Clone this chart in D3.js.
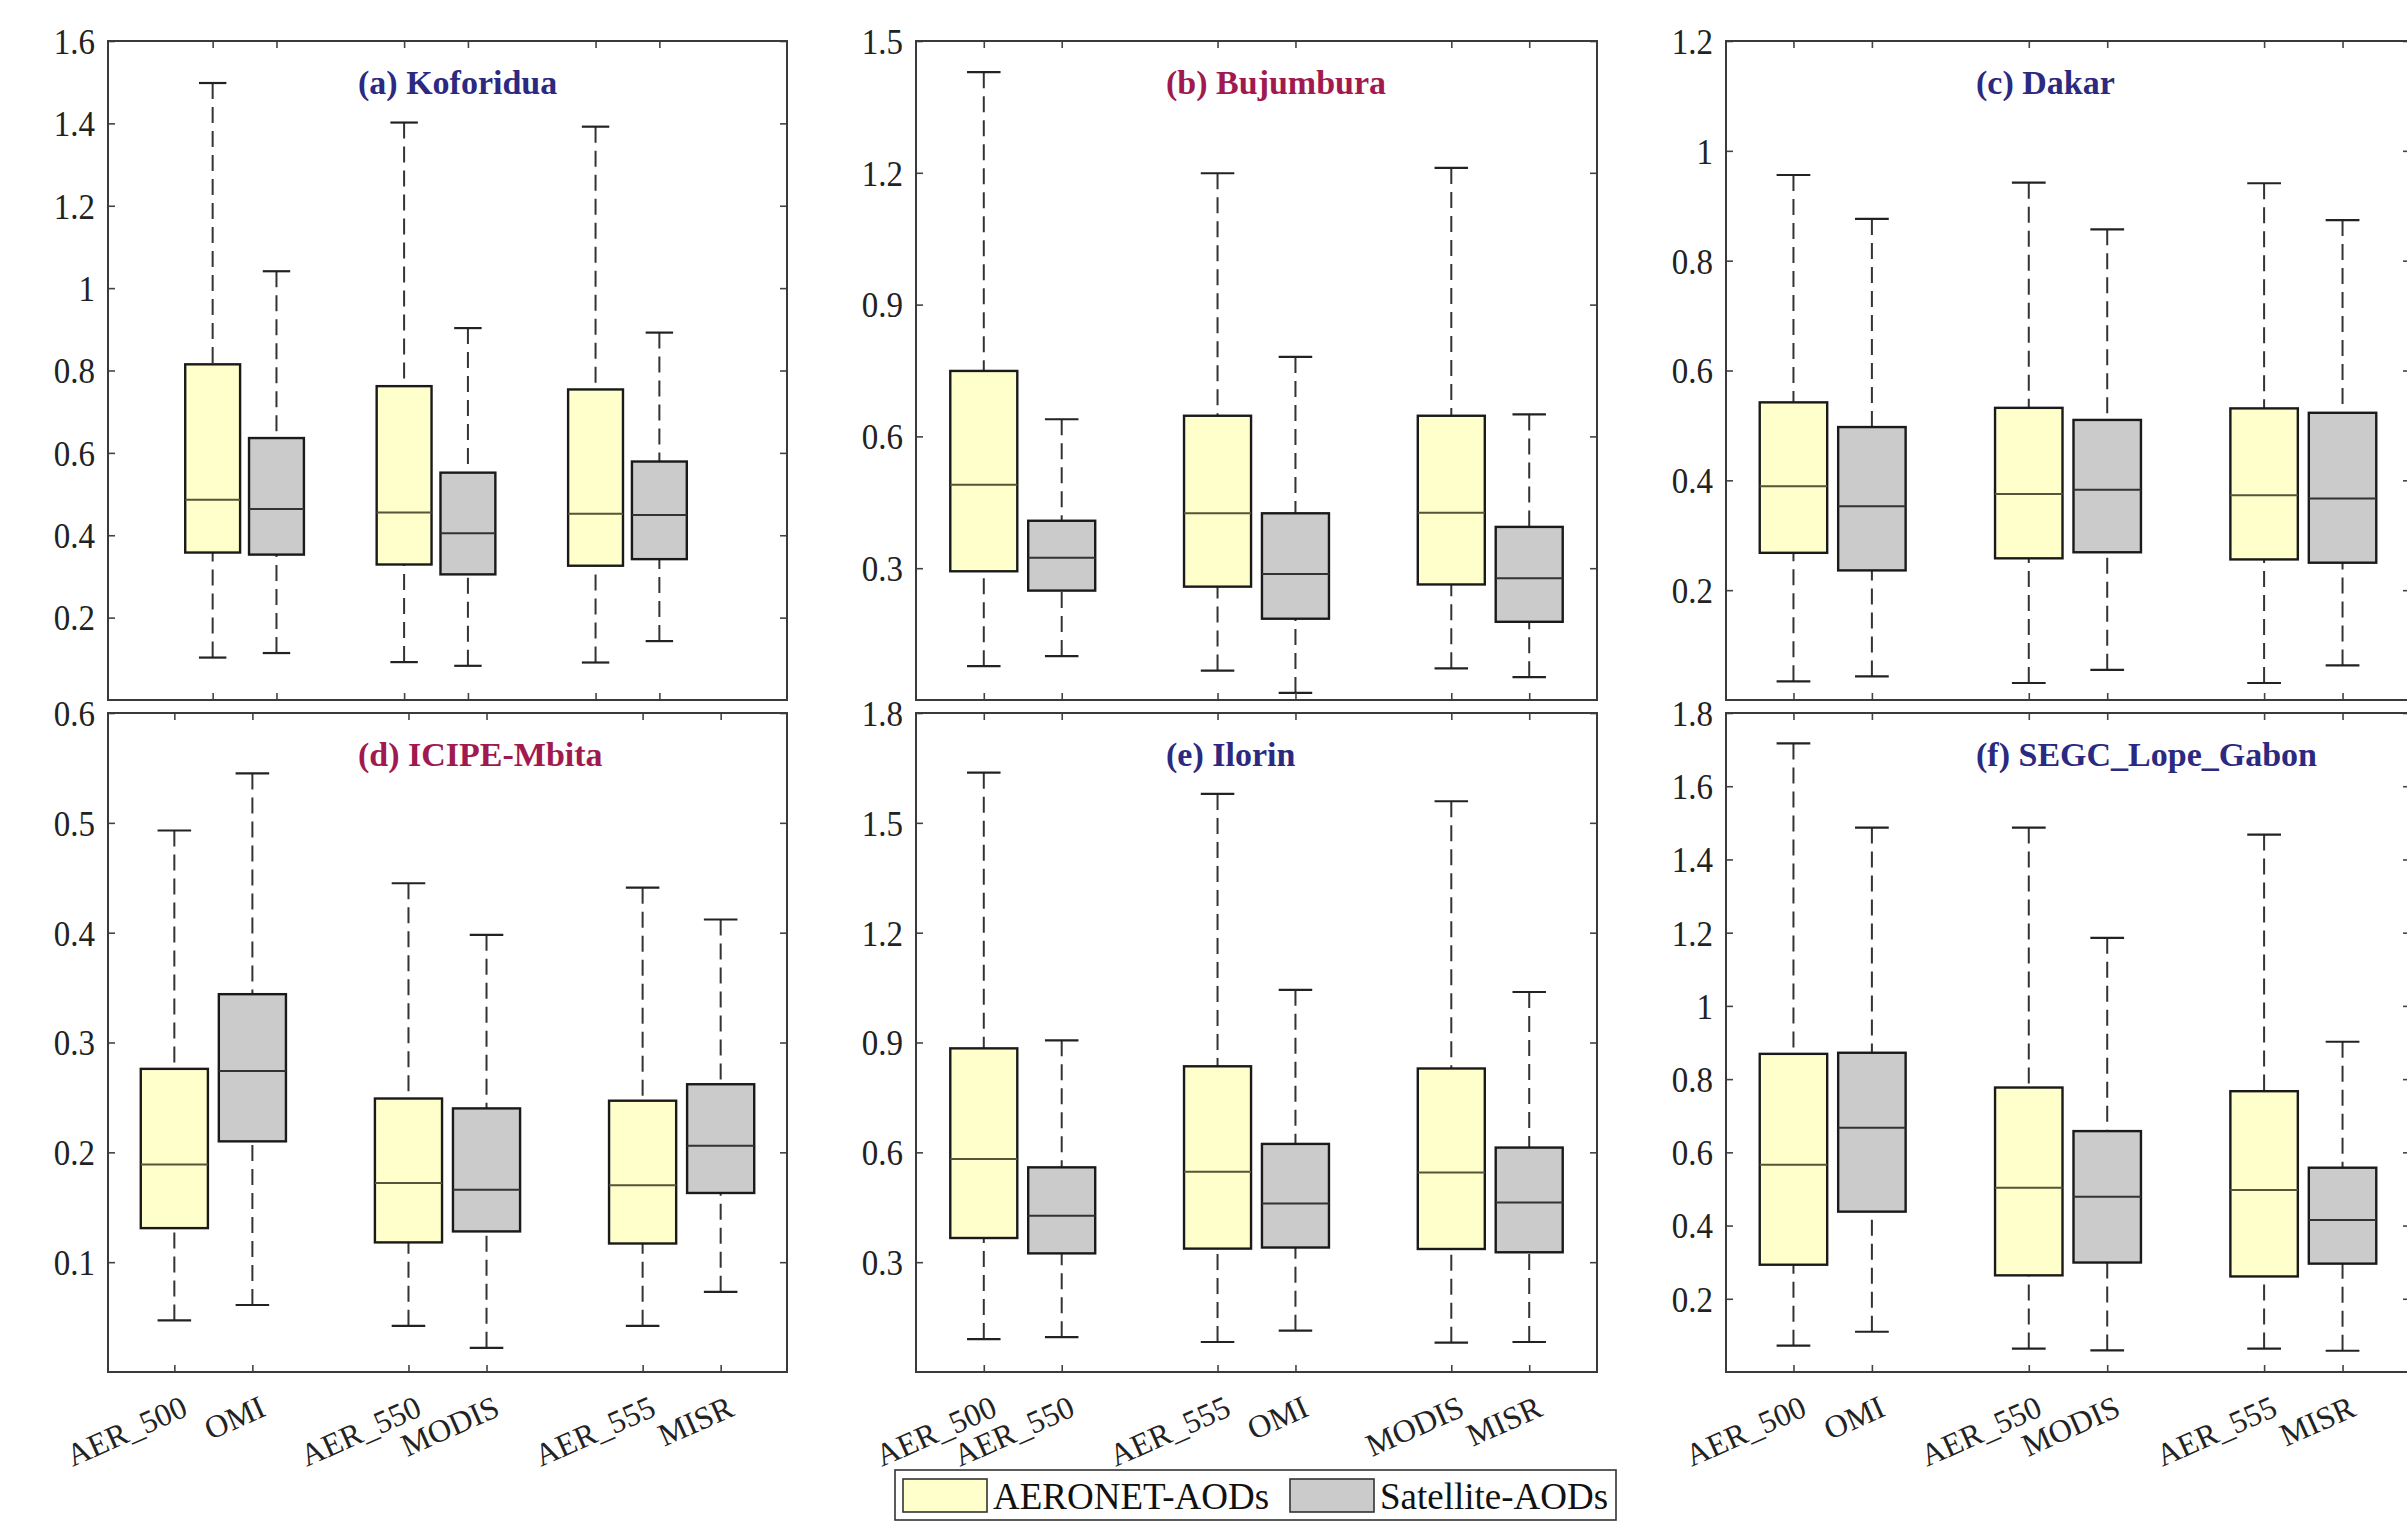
<!DOCTYPE html>
<html lang="en">
<head>
<meta charset="UTF-8">
<title>AERONET vs satellite AOD boxplots</title>
<script src="https://cdn.jsdelivr.net/npm/d3@7"></script>
<style>
  body { margin: 0; background: #fff; }
  text { font-family: "Liberation Serif", "Times New Roman", serif; }
</style>
</head>
<body>
<script>
// each box: [lower whisker, Q1, median, Q3, upper whisker]
var koforidua = [[0.103,0.358,0.486,0.815,1.498],[0.114,0.353,0.464,0.636,1.041],
                 [0.092,0.329,0.455,0.762,1.402],[0.083,0.305,0.405,0.552,0.903],
                 [0.091,0.326,0.452,0.754,1.392],[0.143,0.342,0.449,0.579,0.892]];
var bujumbura = [[0.077,0.293,0.490,0.749,1.429],[0.100,0.249,0.324,0.408,0.639],
                 [0.067,0.258,0.425,0.647,1.199],[0.016,0.185,0.287,0.425,0.781],
                 [0.072,0.263,0.426,0.647,1.211],[0.052,0.178,0.277,0.394,0.650]];
var dakar     = [[0.034,0.268,0.389,0.542,0.956],[0.043,0.236,0.353,0.497,0.876],
                 [0.031,0.258,0.375,0.532,0.942],[0.055,0.269,0.383,0.510,0.857],
                 [0.031,0.256,0.373,0.531,0.941],[0.063,0.250,0.367,0.523,0.874]];
var mbita     = [[0.047,0.131,0.189,0.276,0.493],[0.061,0.210,0.274,0.344,0.545],
                 [0.042,0.118,0.172,0.249,0.445],[0.022,0.128,0.166,0.240,0.398],
                 [0.042,0.117,0.170,0.247,0.441],[0.073,0.163,0.206,0.262,0.412]];
var ilorin    = [[0.090,0.366,0.582,0.884,1.637],[0.095,0.324,0.427,0.559,0.906],
                 [0.082,0.337,0.547,0.835,1.579],[0.113,0.340,0.460,0.623,1.044],
                 [0.080,0.336,0.545,0.829,1.559],[0.082,0.327,0.463,0.613,1.038]];
var lopeGabon = [[0.072,0.293,0.566,0.869,1.717],[0.110,0.438,0.667,0.872,1.487],
                 [0.064,0.264,0.503,0.777,1.487],[0.059,0.299,0.479,0.658,1.186],
                 [0.064,0.261,0.497,0.767,1.468],[0.058,0.296,0.415,0.558,0.902]];

var positions = [1, 2, 4, 5, 7, 8];
var boxKind = ["AERONET", "Satellite", "AERONET", "Satellite", "AERONET", "Satellite"];

var labelsD = ["AER_500", "OMI", "AER_550", "MODIS", "AER_555", "MISR"];
var labelsE = ["AER_500", "AER_550", "AER_555", "OMI", "MODIS", "MISR"];
var labelsF = ["AER_500", "OMI", "AER_550", "MODIS", "AER_555", "MISR"];

var ticksA = [0.2, 0.4, 0.6, 0.8, 1, 1.2, 1.4, 1.6];
var ticksB = [0.3, 0.6, 0.9, 1.2, 1.5];
var ticksC = [0.2, 0.4, 0.6, 0.8, 1, 1.2];
var ticksD = [0.1, 0.2, 0.3, 0.4, 0.5, 0.6];
var ticksE = [0.3, 0.6, 0.9, 1.2, 1.5, 1.8];
var ticksF = [0.2, 0.4, 0.6, 0.8, 1, 1.2, 1.4, 1.6, 1.8];

var legendNames = ["AERONET-AODs", "Satellite-AODs"];

var navy = "#2b2a80", crimson = "#a01a50";
var fills = { AERONET: "#ffffcc", Satellite: "#cbcbcb" };

var panels = [
  { title: "(a) Koforidua",       color: navy,    data: koforidua, yMax: 1.6, ticks: ticksA, labels: null,    col: 0, row: 0, xDom: [-0.64, 10] },
  { title: "(b) Bujumbura",       color: crimson, data: bujumbura, yMax: 1.5, ticks: ticksB, labels: null,    col: 1, row: 0, xDom: [0.13, 8.87] },
  { title: "(c) Dakar",           color: navy,    data: dakar,     yMax: 1.2, ticks: ticksC, labels: null,    col: 2, row: 0, xDom: [0.14, 8.86] },
  { title: "(d) ICIPE-Mbita",     color: crimson, data: mbita,     yMax: 0.6, ticks: ticksD, labels: labelsD, col: 0, row: 1, xDom: [0.15, 8.85] },
  { title: "(e) Ilorin",          color: navy,    data: ilorin,    yMax: 1.8, ticks: ticksE, labels: labelsE, col: 1, row: 1, xDom: [0.13, 8.87] },
  { title: "(f) SEGC_Lope_Gabon", color: navy,    data: lopeGabon, yMax: 1.8, ticks: ticksF, labels: labelsF, col: 2, row: 1, xDom: [0.14, 8.86] }
];

var W = 2407, H = 1524;
var cols = [[108, 787], [916, 1597], [1726, 2410]];
var rows = [[41, 700], [713, 1372]];
var halfBox = 0.43, halfCap = 0.215;

var svg = d3.select("body").append("svg")
  .attr("width", W).attr("height", H)
  .style("display", "block");

panels.forEach(function(p) {
  var x0 = cols[p.col][0], x1 = cols[p.col][1];
  var y0 = rows[p.row][0], y1 = rows[p.row][1];
  var x = d3.scaleLinear().domain(p.xDom).range([x0, x1]);
  var y = d3.scaleLinear().domain([0, p.yMax]).range([y1, y0]);
  var g = svg.append("g");

  var boxes = g.selectAll("g.box").data(p.data).enter().append("g").attr("class", "box");

  // whiskers
  boxes.append("line")
    .attr("x1", function(d, i) { return x(positions[i]); })
    .attr("x2", function(d, i) { return x(positions[i]); })
    .attr("y1", function(d) { return y(d[4]); })
    .attr("y2", function(d) { return y(d[3]); })
    .attr("stroke", "#333").attr("stroke-width", 2).attr("stroke-dasharray", "16,8");
  boxes.append("line")
    .attr("x1", function(d, i) { return x(positions[i]); })
    .attr("x2", function(d, i) { return x(positions[i]); })
    .attr("y1", function(d) { return y(d[0]); })
    .attr("y2", function(d) { return y(d[1]); })
    .attr("stroke", "#333").attr("stroke-width", 2).attr("stroke-dasharray", "16,8");
  [0, 4].forEach(function(k) {
    boxes.append("line")
      .attr("x1", function(d, i) { return x(positions[i] - halfCap); })
      .attr("x2", function(d, i) { return x(positions[i] + halfCap); })
      .attr("y1", function(d) { return y(d[k]); })
      .attr("y2", function(d) { return y(d[k]); })
      .attr("stroke", "#222").attr("stroke-width", 2.2);
  });

  boxes.append("rect")
    .attr("x", function(d, i) { return x(positions[i] - halfBox); })
    .attr("width", function(d, i) { return x(positions[i] + halfBox) - x(positions[i] - halfBox); })
    .attr("y", function(d) { return y(d[3]); })
    .attr("height", function(d) { return y(d[1]) - y(d[3]); })
    .attr("fill", function(d, i) { return fills[boxKind[i]]; })
    .attr("stroke", "#1a1a1a").attr("stroke-width", 2.4);

  boxes.append("line")
    .attr("x1", function(d, i) { return x(positions[i] - halfBox); })
    .attr("x2", function(d, i) { return x(positions[i] + halfBox); })
    .attr("y1", function(d) { return y(d[2]); })
    .attr("y2", function(d) { return y(d[2]); })
    .attr("stroke", function(d, i) { return boxKind[i] == "AERONET" ? "#55553a" : "#333"; })
    .attr("stroke-width", 2);

  // axes, ticks pointing inward
  var yl = g.append("g").attr("transform", "translate(" + x0 + ",0)")
    .call(d3.axisLeft(y).tickValues(p.ticks).tickSize(-7).tickPadding(13).tickFormat(d3.format("~g")));
  g.append("g").attr("transform", "translate(" + x1 + ",0)")
    .call(d3.axisRight(y).tickValues(p.ticks).tickSize(-7).tickFormat(""));
  g.append("g").attr("transform", "translate(0," + y1 + ")")
    .call(d3.axisBottom(x).tickValues(positions).tickSize(-7).tickFormat(""));
  g.append("g").attr("transform", "translate(0," + y0 + ")")
    .call(d3.axisTop(x).tickValues(positions).tickSize(-7).tickFormat(""));
  g.selectAll(".domain").remove();
  g.selectAll(".tick line").attr("stroke", "#444").attr("stroke-width", 1.6);
  // the original figure is slightly stretched vertically
  yl.selectAll("text")
    .attr("font-family", "Liberation Serif").attr("font-size", 33)
    .attr("fill", "#222").attr("dy", "0.34em")
    .attr("transform", "scale(1,1.1)");

  g.append("rect")
    .attr("x", x0).attr("y", y0).attr("width", x1 - x0).attr("height", y1 - y0)
    .attr("fill", "none").attr("stroke", "#3a3a3a").attr("stroke-width", 2);

  g.append("text")
    .attr("x", x0 + 250).attr("y", y0 + 53)
    .attr("font-size", 34).attr("font-weight", "bold")
    .attr("fill", p.color)
    .text(p.title);

  if (p.labels) {
    g.selectAll("text.xl").data(p.labels).enter().append("text")
      .attr("class", "xl")
      .attr("text-anchor", "end")
      .attr("font-size", 32)
      .attr("fill", "#222")
      .attr("transform", function(d, i) {
        return "translate(" + (x(positions[i]) + 15) + "," + (y1 + 43) + ") rotate(-24)";
      })
      .text(function(d) { return d; });
  }
});

// legend
var lg = svg.append("g");
lg.append("rect").attr("x", 895).attr("y", 1470).attr("width", 721).attr("height", 50)
  .attr("fill", "#fff").attr("stroke", "#333").attr("stroke-width", 1.6);
var legX = [903, 1290];
legendNames.forEach(function(name, i) {
  lg.append("rect").attr("x", legX[i]).attr("y", 1479).attr("width", 84).attr("height", 33)
    .attr("fill", fills[boxKind[i]]).attr("stroke", "#333").attr("stroke-width", 1.6);
  lg.append("text").attr("x", legX[i] + 90).attr("y", 1509)
    .attr("font-size", 37).attr("fill", "#111").text(name);
});
</script>
</body>
</html>
